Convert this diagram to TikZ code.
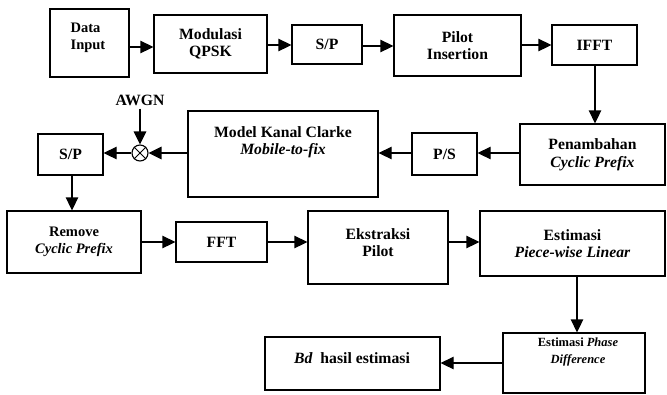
\documentclass[tikz,border=0pt]{standalone}
\usepackage{fontspec}
\setmainfont{Liberation Serif}
\usetikzlibrary{arrows.meta}
\tikzset{
  box/.style={draw, line width=1.3pt, inner sep=0pt, font=\fs},
  txt/.style={inner sep=0pt, align=center, font=\fs},
  arr/.style={line width=1.3pt, -{Triangle[length=13pt,width=12.5pt]}},
}
\newcommand\fs{\fontsize{15.7}{17.5}\selectfont\bfseries}
\newcommand\fss{\fontsize{14.5}{17}\selectfont\bfseries}
\newcommand\fsx{\fontsize{12.5}{16.5}\selectfont\bfseries}
\begin{document}
\begin{tikzpicture}[x=1pt,y=-1pt]
\useasboundingbox (0,0) rectangle (667,394);
% top row
\node[box, minimum width=79pt, minimum height=68pt] (din) at (89.5,43) {};
\node[txt, align=left, font=\fss] (dint) at (88,38) {Data\\Input};
\node[box, minimum width=113pt, minimum height=58pt, align=center] (mod) at (210.5,44) {Modulasi\\QPSK};
\node[box, minimum width=70pt, minimum height=39pt] (sp1) at (327,44.5) {S/P};
\node[box, minimum width=127pt, minimum height=61pt, align=center] (pil) at (457.5,45.5) {Pilot\\Insertion};
\node[box, minimum width=85pt, minimum height=40pt] (ifft) at (594.5,45) {IFFT};
% middle row
\node[box, minimum width=145pt, minimum height=61pt, align=center] (pen) at (592.5,154.5) {Penambahan\\\textit{Cyclic Prefix}};
\node[box, minimum width=65pt, minimum height=42pt] (ps) at (444.5,154) {P/S};
\node[box, minimum width=190pt, minimum height=86pt] (model) at (283,154) {};
\node[txt] (modelt) at (283,142) {Model Kanal Clarke\\\textit{Mobile-to-fix}};
\node[draw, circle, line width=1.1pt, minimum size=16pt, inner sep=0pt] (sum) at (140,153) {};
\draw[line width=1pt] (sum.45) -- (sum.225) (sum.135) -- (sum.315);
\node[txt] (awgn) at (140,100) {AWGN};
\node[box, minimum width=65pt, minimum height=41pt] (sp2) at (70.5,154.5) {S/P};
% lower row
\node[box, minimum width=134pt, minimum height=62pt, align=center, font=\fss] (rem) at (74,242) {Remove\\\textit{Cyclic Prefix}};
\node[box, minimum width=91pt, minimum height=40pt] (fft) at (221.5,242) {FFT};
\node[box, minimum width=140pt, minimum height=73pt] (eks) at (378,247.5) {};
\node[txt] (ekst) at (378,242.5) {Ekstraksi\\Pilot};
\node[box, minimum width=185pt, minimum height=65pt, align=center] (epl) at (572.5,243.5) {Estimasi\\\textit{Piece-wise Linear}};
% bottom row
\node[box, minimum width=142pt, minimum height=60pt] (epd) at (574,363) {};
\node[txt, font=\fsx] (epdt) at (578,352) {Estimasi \textit{Phase}\\\textit{Difference}};
\node[box, minimum width=175pt, minimum height=53pt] (bd) at (352.5,363.5) {};
\node[txt] (bdt) at (352,358) {\textit{Bd}\ \ hasil estimasi};
% connectors
\draw[arr] (din.east |- 0,47) -- (mod.west |- 0,47);
\draw[arr] (mod.east |- 0,45) -- (sp1.west |- 0,45);
\draw[arr] (sp1.east |- 0,46) -- (pil.west |- 0,46);
\draw[arr] (pil.east |- 0,45) -- (ifft.west |- 0,45);
\draw[arr] (ifft.south -| 595,0) -- (pen.north -| 595,0);
\draw[arr] (pen.west |- 0,153) -- (ps.east |- 0,153);
\draw[arr] (ps.west |- 0,153) -- (model.east |- 0,153);
\draw[arr] (model.west |- 0,153) -- (sum.east);
\draw[arr] (awgn.south) ++(0,3) -- (sum.north);
\draw[arr] (sum.west) -- (sp2.east |- 0,153);
\draw[arr] (sp2.south -| 72,0) -- (rem.north -| 72,0);
\draw[arr] (rem.east |- 0,242) -- (fft.west |- 0,242);
\draw[arr] (fft.east |- 0,242) -- (eks.west |- 0,242);
\draw[arr] (eks.east |- 0,242) -- (epl.west |- 0,242);
\draw[arr] (epl.south -| 577,0) -- (epd.north -| 577,0);
\draw[arr] (epd.west |- 0,363) -- (bd.east |- 0,363);
\end{tikzpicture}
\end{document}
